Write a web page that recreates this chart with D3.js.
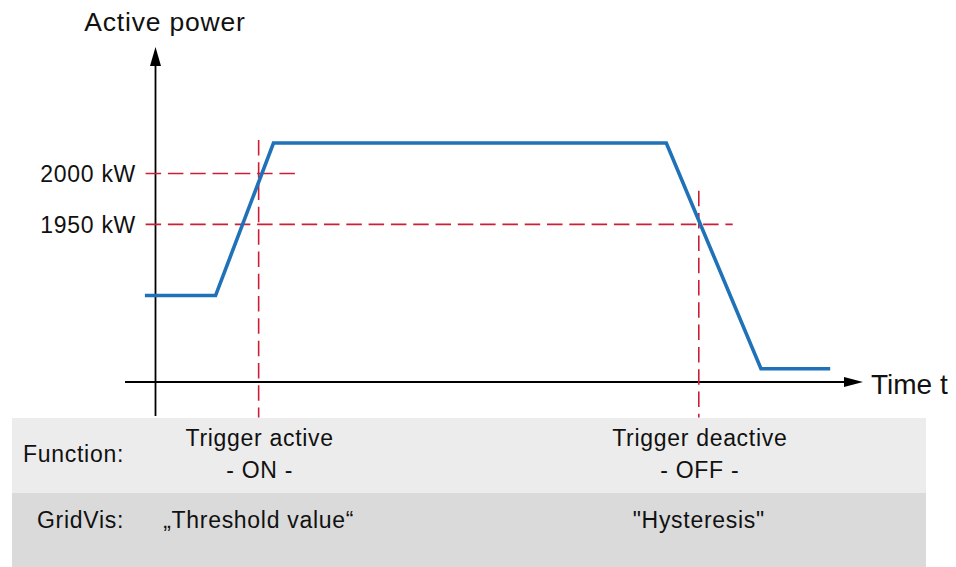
<!DOCTYPE html>
<html>
<head>
<meta charset="utf-8">
<script src="https://cdn.jsdelivr.net/npm/d3@7"></script>
<style>
  html, body { margin: 0; padding: 0; background: #ffffff; }
  svg { display: block; font-family: "Liberation Sans", Arial, Helvetica, sans-serif; }
</style>
</head>
<body>
<svg id="chart" width="956" height="567"></svg>
<script>
// ---- data ----
const timeValues  = [-1.5, 8.5, 16.7, 72.3, 85.7, 95.5];     // time (arbitrary units)
const powerValues = [1880, 1880, 2030, 2030, 1808, 1808];    // active power (kW)
const thresholdValues = [2000, 1950];
const thresholdLabels = ["2000 kW", "1950 kW"];
const thresholdStart = [-1.4, -1.4];
const thresholdEnd   = [19.9, 81.7];
const triggerTimes = [14.6, 76.9];
const triggerTop   = [2033, 1983];
const triggerBottom = [1760, 1760];
const functionLabels = [["Trigger active", "- ON -"], ["Trigger deactive", "- OFF -"]];
const gridVisLabels = ["\u201EThreshold value\u201C", "\"Hysteresis\""];
const rowLabels = ["Function:", "GridVis:"];
const yAxisTitle = "Active power";
const xAxisTitle = "Time t";

// ---- layout ----
const W = 956, H = 567;
const svg = d3.select("#chart");
const x = d3.scaleLinear().domain([0, 100]).range([155.5, 862]);
const y = d3.scaleLinear().domain([1795, 2030]).range([382, 143]);

const blue = "#1f72b8";
const red = "#cc1f36";
const fontSize = 23;
const spacing = 0.7;

// bottom panel
const panelLeft = 12, panelRight = 926;
const row1Top = 418, row1Bottom = 493, row2Bottom = 567;
svg.append("rect").attr("x", panelLeft).attr("y", row1Top)
  .attr("width", panelRight - panelLeft).attr("height", row1Bottom - row1Top).attr("fill", "#ececec");
svg.append("rect").attr("x", panelLeft).attr("y", row1Bottom)
  .attr("width", panelRight - panelLeft).attr("height", row2Bottom - row1Bottom).attr("fill", "#dadada");

// axes (arrows)
const axisG = svg.append("g");
axisG.append("line")
  .attr("x1", x(0)).attr("x2", x(0))
  .attr("y1", row1Top - 2).attr("y2", 64)
  .attr("stroke", "#000").attr("stroke-width", 1.8);
axisG.append("path")
  .attr("d", d3.line()([[x(0) - 5.5, 66], [x(0), 47], [x(0) + 5.5, 66]]) + "Z")
  .attr("fill", "#000");
axisG.append("line")
  .attr("x1", 125).attr("x2", x(100) - 16)
  .attr("y1", y(1795)).attr("y2", y(1795))
  .attr("stroke", "#000").attr("stroke-width", 1.8);
axisG.append("path")
  .attr("d", d3.line()([[x(100) - 18, y(1795) - 5], [x(100) + 1, y(1795)], [x(100) - 18, y(1795) + 5]]) + "Z")
  .attr("fill", "#000");

// y tick labels via d3 axis
const yAxis = d3.axisLeft(y).tickValues(thresholdValues)
  .tickFormat((d, i) => thresholdLabels[i]).tickSize(0).tickPadding(0);
const yAxisG = svg.append("g").attr("transform", `translate(${136},0)`).call(yAxis);
yAxisG.select(".domain").remove();
yAxisG.selectAll("text")
  .attr("font-family", "Liberation Sans, Arial, sans-serif")
  .attr("font-size", fontSize).attr("letter-spacing", spacing)
  .attr("fill", "#111").attr("dy", "0.36em");

// threshold lines
svg.append("g").selectAll("line").data(thresholdValues).join("line")
  .attr("x1", (d, i) => x(thresholdStart[i])).attr("x2", (d, i) => x(thresholdEnd[i]))
  .attr("y1", d => y(d)).attr("y2", d => y(d))
  .attr("stroke", red).attr("stroke-width", 1.6).attr("stroke-dasharray", "15.5,6.8");

// trigger lines
svg.append("g").selectAll("line").data(triggerTimes).join("line")
  .attr("x1", d => x(d)).attr("x2", d => x(d))
  .attr("y1", (d, i) => y(triggerTop[i])).attr("y2", (d, i) => y(triggerBottom[i]))
  .attr("stroke", red).attr("stroke-width", 1.6).attr("stroke-dasharray", "15.5,6.8");

// power curve
const line = d3.line().x(d => x(d[0])).y(d => y(d[1]));
svg.append("path")
  .datum(timeValues.map((t, i) => [t, powerValues[i]]))
  .attr("d", line)
  .attr("fill", "none").attr("stroke", blue).attr("stroke-width", 3.6)
  .attr("stroke-linejoin", "miter");

// axis titles
svg.append("text").attr("x", 165).attr("y", 31).attr("text-anchor", "middle")
  .attr("font-size", 26.5).attr("letter-spacing", 0.8).attr("fill", "#111").text(yAxisTitle);
svg.append("text").attr("x", 871).attr("y", 393.5).attr("text-anchor", "start")
  .attr("font-size", 28).attr("fill", "#111").text(xAxisTitle);

// panel texts
svg.append("g").selectAll("text").data(rowLabels).join("text")
  .attr("x", 124).attr("y", (d, i) => i === 0 ? 462 : 528)
  .attr("text-anchor", "end").attr("font-size", fontSize).attr("letter-spacing", spacing)
  .attr("fill", "#111").text(d => d);

functionLabels.forEach((lines, i) => {
  svg.append("g").selectAll("text").data(lines).join("text")
    .attr("x", x(triggerTimes[i]) + 1).attr("y", (d, j) => j === 0 ? 446 : 478)
    .attr("text-anchor", "middle").attr("font-size", fontSize).attr("letter-spacing", spacing)
    .attr("fill", "#111").text(d => d);
});
svg.append("g").selectAll("text").data(gridVisLabels).join("text")
  .attr("x", (d, i) => x(triggerTimes[i])).attr("y", 528)
  .attr("text-anchor", "middle").attr("font-size", fontSize).attr("letter-spacing", spacing)
  .attr("fill", "#111").text(d => d);
</script>
</body>
</html>
